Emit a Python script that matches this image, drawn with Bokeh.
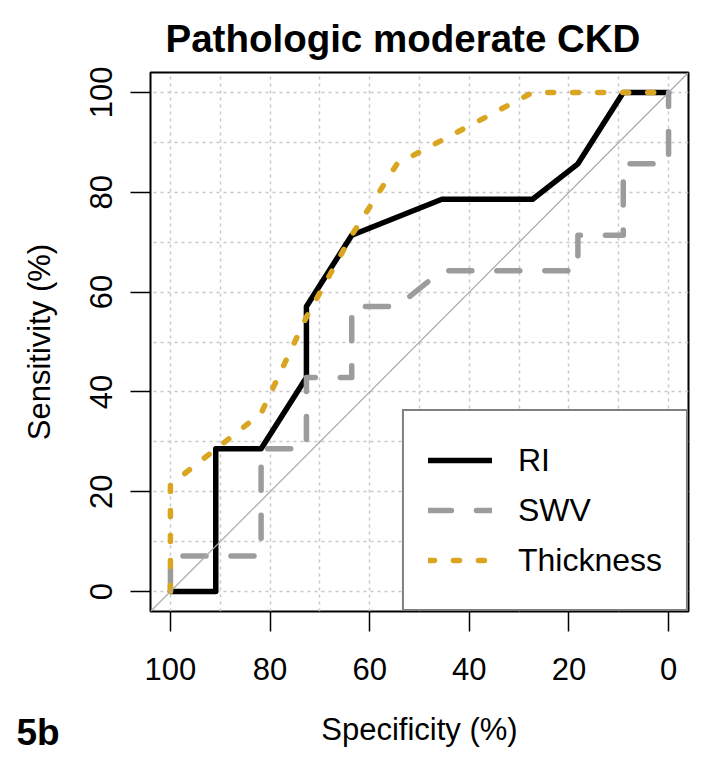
from bokeh.plotting import figure
from bokeh.models import Range1d, FixedTicker, SingleIntervalTicker, Legend, LegendItem, Slope, Title
from bokeh.embed import file_html
from bokeh.resources import INLINE

# Data (specificity %, sensitivity %)
spec_ri = [100, 90.9, 90.9, 81.8, 72.7, 72.7, 63.6, 45.5, 27.3, 18.2, 9.1, 0]
sens_ri = [0, 0, 28.6, 28.6, 42.9, 57.1, 71.4, 78.6, 78.6, 85.7, 100, 100]

spec_swv = [100, 100, 81.8, 81.8, 72.7, 72.7, 63.6, 63.6, 54.5, 45.5, 18.2, 18.2, 9.1, 9.1, 0, 0]
sens_swv = [0, 7.1, 7.1, 28.6, 28.6, 42.9, 42.9, 57.1, 57.1, 64.3, 64.3, 71.4, 71.4, 85.7, 85.7, 100]

spec_thk = [100, 100, 81.8, 72.7, 63.6, 54.5, 27.3, 0]
sens_thk = [0, 21.4, 35.7, 55, 71.4, 85.7, 100, 100]

series_labels = ["RI", "SWV", "Thickness"]
ticks = [0, 20, 40, 60, 80, 100]

FONT = "Liberation Sans"

p = figure(frame_width=538, frame_height=539,
           x_range=Range1d(104, -4), y_range=Range1d(-4, 104),
           output_backend="svg", toolbar_location=None,
           min_border_left=150, min_border_right=15,
           min_border_top=72, min_border_bottom=151,
           background_fill_color="white", border_fill_color="white")

p.outline_line_color = "black"
p.outline_line_width = 2
p.outline_line_alpha = 1

# Title
p.title.text = "Pathologic moderate CKD"
p.title.text_font = FONT
p.title.text_font_style = "bold"
p.title.text_font_size = "38.5px"
p.title.align = "left"
p.title.offset = 15
p.title.standoff = 26
p.title.text_color = "black"

# Axes
for ax in (p.xaxis[0], p.yaxis[0]):
    ax.ticker = FixedTicker(ticks=ticks)
    ax.minor_tick_line_color = None
    ax.major_tick_in = 0
    ax.major_tick_out = 20
    ax.major_tick_line_color = "black"
    ax.major_tick_line_width = 1.5
    ax.axis_line_color = None
    ax.major_label_text_font = FONT
    ax.major_label_text_font_size = "31px"
    ax.major_label_text_color = "black"
    ax.axis_label_text_font = FONT
    ax.axis_label_text_font_size = "31px"
    ax.axis_label_text_font_style = "normal"
    ax.axis_label_text_color = "black"

p.xaxis.axis_label = "Specificity (%)"
p.yaxis.axis_label = "Sensitivity (%)"
p.xaxis.major_label_standoff = 26
p.xaxis.axis_label_standoff = 29
p.yaxis.major_label_orientation = "vertical"
p.yaxis.major_label_standoff = 18
p.yaxis.axis_label_standoff = 31

# Grid
p.xgrid.ticker = SingleIntervalTicker(interval=10)
p.ygrid.ticker = SingleIntervalTicker(interval=10)
for g in (p.xgrid[0], p.ygrid[0]):
    g.grid_line_color = "#c8c8c8"
    g.grid_line_dash = "3 4"
    g.grid_line_width = 1.5

# Diagonal reference
p.add_layout(Slope(gradient=-1, y_intercept=100, line_color="#aaaaaa", line_width=1.2))

r1 = p.line(spec_ri, sens_ri, line_color="black", line_width=5.5,
            line_join="round", line_cap="round")
r2 = p.line(spec_swv, sens_swv, line_color="#9c9c9c", line_width=5.5,
            line_dash="23 25", line_join="round", line_cap="round")
r3 = p.line(spec_thk, sens_thk, line_color="#DAA520", line_width=5.5,
            line_dash="6 19", line_join="round", line_cap="round")

legend = Legend(items=[LegendItem(label=series_labels[0], renderers=[r1]),
                       LegendItem(label=series_labels[1], renderers=[r2]),
                       LegendItem(label=series_labels[2], renderers=[r3])],
                location="bottom_right", margin=0, padding=24, spacing=0,
                glyph_width=64, glyph_height=50, label_standoff=26,
                label_text_font=FONT, label_text_font_size="32px",
                label_text_color="black", label_height=50,
                border_line_color="black", border_line_width=2,
                background_fill_color="white", background_fill_alpha=1)
p.add_layout(legend)

# Panel tag "5b" in the lower-left corner
tag = Title(text="5b", align="left", offset=-134, standoff=-76,
            vertical_align="top",
            text_font=FONT, text_font_style="bold", text_font_size="37px",
            text_color="black")
p.add_layout(tag, "below")

open("out.html", "w").write(file_html(p, INLINE))
